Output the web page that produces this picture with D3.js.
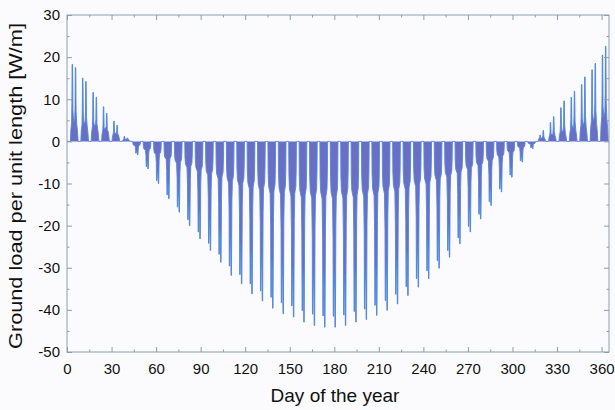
<!DOCTYPE html>
<html>
<head>
<meta charset="utf-8">
<script src="https://cdn.jsdelivr.net/npm/d3@7/dist/d3.min.js"></script>
<style>
  html, body { margin: 0; padding: 0; background: #fbfbfd; }
  svg { display: block; }
  text { font-family: Arial, "Liberation Sans", sans-serif; fill: #111; }
</style>
</head>
<body>
<div id="chart"></div>
<script>
// Weekly load blocks (day of year, W/m)
const weekStart = [2.3, 9.3, 16.3, 23.3, 30.3, 37.3, 44.3, 51.3, 58.3, 65.3, 72.3, 79.3, 86.3,
  93.3, 100.3, 107.3, 114.3, 121.3, 128.3, 135.3, 142.3, 149.3, 156.3, 163.3, 170.3, 177.3,
  184.3, 191.3, 198.3, 205.3, 212.3, 219.3, 226.3, 233.3, 240.3, 247.3, 254.3, 261.3, 268.3,
  275.3, 282.3, 289.3, 296.3, 303.3, 310.3, 317.3, 324.3, 331.3, 338.3, 345.3, 352.3, 359.3];
// first peak of the week
const spikeA = [18.3, 15.0, 11.6, 8.2, 4.8, 1.2,
  -2.8, -6.0, -9.3, -12.7, -15.6, -18.6, -21.5, -24.2, -26.8, -29.6, -31.6, -33.8, -35.5,
  -37.0, -38.3, -39.0, -40.2, -41.0, -41.4, -41.5, -41.2, -40.4, -39.8, -38.9, -37.8, -36.3,
  -34.5, -32.6, -30.7, -28.3, -25.9, -22.9, -20.2, -17.3, -14.3, -11.3, -8.0, -4.6, -1.5,
  1.5, 4.5, 8.0, 10.5, 13.5, 17.0, 20.5];
// second peak of the week
const spikeB = [17.5, 14.2, 10.5, 6.7, 3.8, 0.8,
  -3.2, -6.5, -10.0, -13.6, -16.8, -20.0, -23.1, -25.9, -28.7, -31.8, -33.8, -36.2, -37.9,
  -39.6, -40.9, -41.7, -42.9, -43.7, -44.1, -44.1, -43.7, -42.9, -42.3, -41.3, -40.1, -38.6,
  -36.6, -34.6, -32.6, -30.1, -27.5, -24.3, -21.5, -18.4, -15.2, -12.0, -8.5, -4.9, -1.7,
  2.6, 5.9, 9.6, 11.9, 15.3, 18.5, 22.6];
// base level of the working days
const body = [4.5, 4.0, 3.5, 2.8, 1.8, 0.5,
  -0.9, -1.8, -2.7, -3.7, -4.5, -5.4, -6.2, -7.0, -7.7, -8.6, -9.1, -9.8, -10.2,
  -10.7, -11.0, -11.3, -11.6, -11.8, -11.9, -11.9, -11.8, -11.6, -11.4, -11.2, -10.8, -10.4,
  -9.9, -9.3, -8.8, -8.1, -7.4, -6.6, -5.8, -5.0, -4.1, -3.2, -2.3, -1.3, -0.5,
  0.8, 1.5, 2.2, 3.0, 3.8, 4.8, 5.8];

const xMajor = d3.range(0, 361, 30);
const xMinor = d3.range(15, 361, 30);
const yMajor = [-50, -40, -30, -20, -10, 0, 10, 20, 30];
const yMinor = [-45, -35, -25, -15, -5, 5, 15, 25];

const W = 615, H = 410;
const M = { left: 67, right: 6, top: 15, bottom: 58 };

const x = d3.scaleLinear().domain([0, 365]).range([M.left, W - M.right]);
const y = d3.scaleLinear().domain([-50, 30]).range([H - M.bottom, M.top]);

// outline of one working week: [day offset, value kind, factor]
// heating weeks (positive) and cooling weeks (negative) differ a little in where the peaks sit
const shapePos = [
  [0.0, 'zero', 0], [0.3, 'body', 0.6], [0.8, 'body', 1],
  [1.0, 'A', 0.5], [1.15, 'A', 1], [1.45, 'A', 1], [1.7, 'A', 0.4],
  [2.2, 'body', 1.0], [2.9, 'body', 1.2],
  [3.15, 'B', 0.5], [3.3, 'B', 1], [3.6, 'B', 1], [3.85, 'B', 0.4],
  [4.3, 'body', 0.9], [4.8, 'body', 0.5], [5.2, 'zero', 0]
];
const shapeNeg = [
  [0.0, 'zero', 0], [0.15, 'body', 0.7], [0.5, 'body', 1], [1.5, 'body', 1.15],
  [1.85, 'A', 0.55], [2.0, 'A', 1], [2.3, 'A', 1], [2.6, 'B', 0.72],
  [3.0, 'B', 0.8], [3.15, 'B', 1], [3.45, 'B', 1], [3.75, 'B', 0.45],
  [4.05, 'body', 1.1], [4.8, 'body', 0.95], [5.05, 'body', 0.6], [5.2, 'zero', 0]
];

const pts = [{ d: 0, v: 0 }];
weekStart.forEach((s, i) => {
  const shape = spikeB[i] < 0 ? shapeNeg : shapePos;
  shape.forEach(([off, kind, f]) => {
    let v = 0;
    if (kind === 'body') v = body[i] * f;
    else if (kind === 'A') v = spikeA[i] * f;
    else if (kind === 'B') v = spikeB[i] * f;
    pts.push({ d: Math.min(365, s + off), v });
  });
});
pts.push({ d: 365, v: 0 });

const svg = d3.select('#chart').append('svg')
  .attr('width', W).attr('height', H);

svg.append('rect').attr('width', W).attr('height', H).attr('fill', '#fbfbfd');

const plot = svg.append('g');

plot.append('path')
  .datum(pts)
  .attr('fill', '#6a6fc6')
  .attr('d', d3.area().x(d => x(d.d)).y0(y(0)).y1(d => y(d.v)));

plot.append('path')
  .datum(pts)
  .attr('fill', 'none')
  .attr('stroke', '#4f88da')
  .attr('stroke-width', 0.9)
  .attr('d', d3.line().x(d => x(d.d)).y(d => y(d.v)));

// frame
const axisColor = '#8c9db3';
svg.append('rect')
  .attr('x', x(0)).attr('y', y(30))
  .attr('width', x(365) - x(0)).attr('height', y(-50) - y(30))
  .attr('fill', 'none').attr('stroke', axisColor).attr('stroke-width', 1);

function styleAxis(g) {
  g.select('.domain').remove();
  g.selectAll('.tick line').attr('stroke', axisColor);
  g.selectAll('text').attr('font-size', 15).attr('fill', '#111');
}

const plain = d => String(d);

// bottom axis
svg.append('g')
  .attr('transform', `translate(0,${y(-50)})`)
  .call(d3.axisBottom(x).tickValues(xMajor).tickSize(-5).tickPadding(11).tickFormat(plain))
  .call(styleAxis);
svg.append('g')
  .attr('transform', `translate(0,${y(-50)})`)
  .call(d3.axisBottom(x).tickValues(xMinor).tickSize(-2.5).tickFormat(''))
  .call(styleAxis);
// top axis
svg.append('g')
  .attr('transform', `translate(0,${y(30)})`)
  .call(d3.axisTop(x).tickValues(xMajor).tickSize(-5).tickFormat(''))
  .call(styleAxis);
svg.append('g')
  .attr('transform', `translate(0,${y(30)})`)
  .call(d3.axisTop(x).tickValues(xMinor).tickSize(-2.5).tickFormat(''))
  .call(styleAxis);
// left axis
svg.append('g')
  .attr('transform', `translate(${x(0)},0)`)
  .call(d3.axisLeft(y).tickValues(yMajor).tickSize(-5).tickPadding(7).tickFormat(plain))
  .call(styleAxis);
svg.append('g')
  .attr('transform', `translate(${x(0)},0)`)
  .call(d3.axisLeft(y).tickValues(yMinor).tickSize(-2.5).tickFormat(''))
  .call(styleAxis);
// right axis
svg.append('g')
  .attr('transform', `translate(${x(365)},0)`)
  .call(d3.axisRight(y).tickValues(yMajor).tickSize(-5).tickFormat(''))
  .call(styleAxis);
svg.append('g')
  .attr('transform', `translate(${x(365)},0)`)
  .call(d3.axisRight(y).tickValues(yMinor).tickSize(-2.5).tickFormat(''))
  .call(styleAxis);

// axis titles
svg.append('text')
  .attr('x', 335).attr('y', 402)
  .attr('text-anchor', 'middle')
  .attr('font-size', 19)
  .text('Day of the year');

svg.append('text')
  .attr('transform', 'translate(22,186) rotate(-90)')
  .attr('text-anchor', 'middle')
  .attr('font-size', 18.5)
  .attr('textLength', 326)
  .attr('lengthAdjust', 'spacingAndGlyphs')
  .text('Ground load per unit length [W/m]');
</script>
</body>
</html>
